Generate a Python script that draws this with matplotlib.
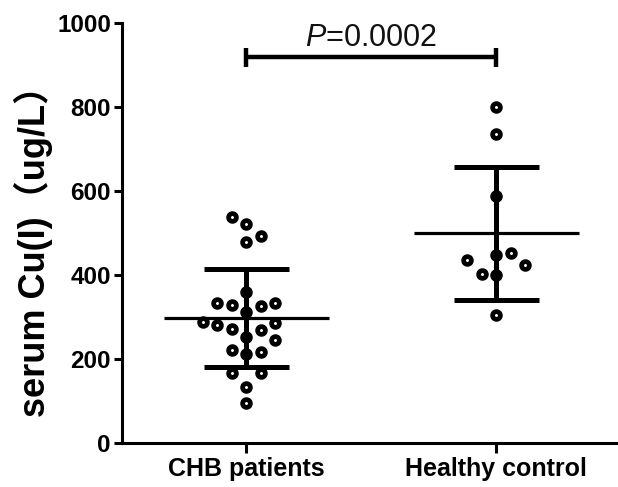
import numpy as np
import matplotlib
matplotlib.use("Agg")
import matplotlib.pyplot as plt

# ---- data ----
groups = ["CHB patients", "Healthy control"]
chb_values = [521, 478, 537, 493, 360, 311, 329, 327, 333, 334, 253, 271,
              269, 281, 285, 287, 245, 212, 221, 217, 133, 96, 167, 167]
healthy_values = [799, 736, 588, 305, 448, 400, 402, 453, 436, 424]
y_ticks = [0, 200, 400, 600, 800, 1000]
p_text = "0.0002"
sig_level = 918

plt.rcParams["font.family"] = ["Liberation Sans", "Noto Sans CJK SC", "DejaVu Sans"]
plt.rcParams["mathtext.fontset"] = "custom"
plt.rcParams["mathtext.rm"] = "Liberation Sans"
plt.rcParams["mathtext.it"] = "Liberation Sans:italic"

W, H = 618, 487
fig = plt.figure(figsize=(W / 100, H / 100), dpi=100)
ax = fig.add_axes([122 / W, 44 / H, 496 / W, 420 / H])
ax.set_xlim(-0.496, 1.488)
ax.set_ylim(0, 1000)


def swarm_x(values, center, step=14.5, gap=14.4):
    """Column-based beeswarm: place each point in the nearest free column."""
    to_px = ax.transData
    to_data = ax.transData.inverted()
    cx = to_px.transform((center, 0))[0]
    placed = []
    xs = []
    side = -1
    for v in values:
        py = to_px.transform((center, v))[1]
        k = 0
        chosen = None
        while chosen is None:
            cands = [0] if k == 0 else [side * k, -side * k]
            for c in cands:
                px = cx + c * step
                if all(np.hypot(px - qx, py - qy) >= gap for qx, qy in placed):
                    chosen = c
                    break
            k += 1
        if chosen != 0:
            side = -int(np.sign(chosen))
        placed.append((cx + chosen * step, py))
        xs.append(to_data.transform((cx + chosen * step, py))[0])
    return xs


for i, vals in enumerate([chb_values, healthy_values]):
    vals = np.asarray(vals, dtype=float)
    xs = swarm_x(vals, i)
    ax.plot(xs, vals, "o", ms=5.6, mfc="white", mec="black", mew=3.4,
            zorder=2, clip_on=False)
    m = vals.mean()
    s = vals.std(ddof=1)
    ax.hlines(m, i - 0.33, i + 0.33, color="black", lw=2.3, zorder=3)
    ax.vlines(i, m - s, m + s, color="black", lw=3.6, zorder=3)
    for yy in (m - s, m + s):
        ax.hlines(yy, i - 0.17, i + 0.17, color="black", lw=3.6, zorder=3)

# significance bracket
ax.plot([0, 1], [sig_level, sig_level], color="black", lw=3.2,
        solid_capstyle="butt", clip_on=False, zorder=3)
ax.vlines([0, 1], sig_level - 23, sig_level + 23, color="black", lw=3.2,
          clip_on=False, zorder=3)
ax.text(0.5, sig_level + 28, r"$\mathit{P}$=" + p_text, ha="center",
        va="baseline", fontsize=22, color="#111111")

# axes styling
for side in ("top", "right"):
    ax.spines[side].set_visible(False)
for side in ("left", "bottom"):
    ax.spines[side].set_linewidth(2.2)
    ax.spines[side].set_color("black")

ax.set_yticks(y_ticks)
ax.set_yticklabels([str(t) for t in y_ticks], fontsize=17.5, fontweight="bold")
ax.set_xticks([0, 1])
ax.set_xticklabels(groups, fontsize=18, fontweight="bold")
ax.tick_params(axis="y", width=2.2, length=6, pad=2, direction="out")
ax.tick_params(axis="x", width=2.2, length=7, pad=3, direction="out")

ax.set_ylabel("serum Cu(I)（ug/L）", fontsize=26, fontweight="bold")
ax.yaxis.set_label_coords(-0.139, 0.478)

fig.savefig("out.png", dpi=100)
